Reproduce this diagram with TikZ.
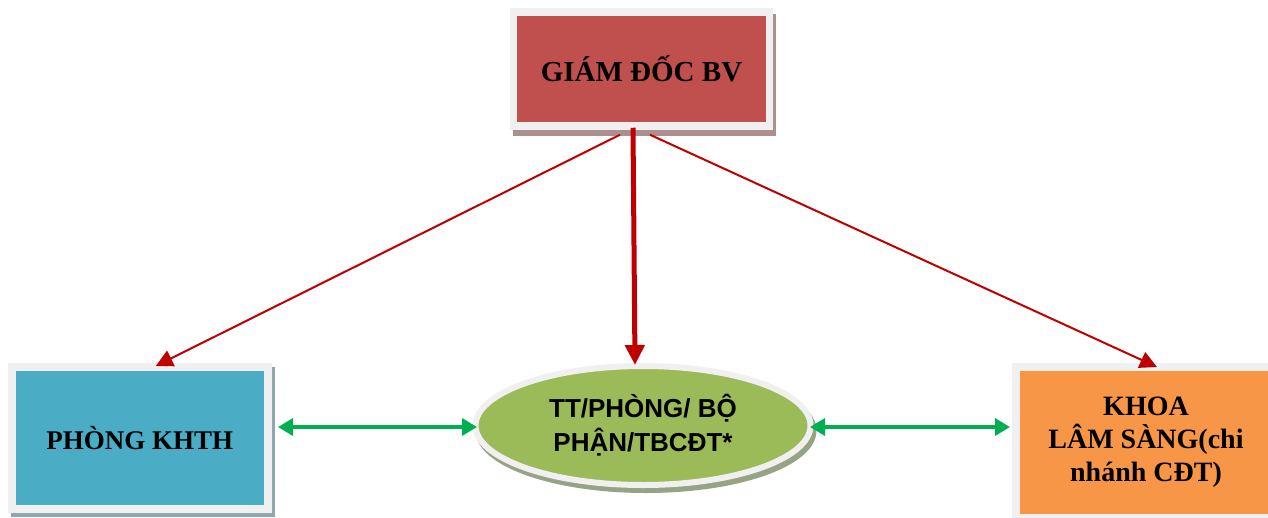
\documentclass[tikz,border=0pt]{standalone}
\usepackage{fontspec}
\setmainfont{Liberation Serif}
\newfontfamily\arialfont{Liberation Sans}
\usetikzlibrary{arrows.meta,shapes.geometric,calc}
\definecolor{redfill}{HTML}{C0504D}
\definecolor{bluefill}{HTML}{4BACC6}
\definecolor{greenfill}{HTML}{9BBB59}
\definecolor{orangefill}{HTML}{F79646}
\definecolor{framegray}{HTML}{F0F0F0}
\definecolor{redshadow}{HTML}{AD8F8F}
\definecolor{blueshadow}{HTML}{8EA8B3}
\definecolor{greenshadow}{HTML}{97A385}
\definecolor{orangeshadow}{HTML}{B89A80}
\definecolor{arrowred}{HTML}{C00000}
\definecolor{arrowgreen}{HTML}{00B050}
\tikzset{
  boxnode/.style={rectangle, draw=framegray, inner sep=0pt, align=center, text=black},
  shadowed/.style 2 args={preaction={draw=#1, fill=#1, transform canvas={shift={(#2)}}}},
  redline/.style={draw=arrowred, line width=2pt, -{Triangle[length=17pt,width=17pt]}},
  redthick/.style={draw=arrowred, line width=5pt, -{Triangle[length=20pt,width=19pt]}},
  greenline/.style={draw=arrowgreen, line width=3.5pt, {Triangle[length=15pt,width=17pt]}-{Triangle[length=15pt,width=17pt]}}
}
\begin{document}
\begin{tikzpicture}[x=1pt,y=-1pt]
\useasboundingbox (0,0) rectangle (1268,517);
\clip (0,0) rectangle (1268,517);

% Top box
\node[boxnode, fill=redfill, line width=7.5pt, outer sep=3.75pt,
      minimum width=256pt, minimum height=114pt,
      shadowed={redshadow}{3pt,-6pt},
      font=\bfseries\fontsize{29}{34}\selectfont] (gd) at (641.5,69) {GIÁM ĐỐC BV};

% Left box
\node[boxnode, fill=bluefill, line width=8pt, outer sep=4pt,
      minimum width=256.5pt, minimum height=141.5pt,
      shadowed={blueshadow}{3pt,-4pt},
      font=\bfseries\fontsize{27}{32}\selectfont] (kh) at (139.75,437.75) {PHÒNG KHTH};

% Center ellipse
\node[ellipse, draw=framegray, fill=greenfill, line width=6pt, outer sep=3pt, inner sep=0pt,
      minimum width=335pt, minimum height=119pt, align=center,
      shadowed={greenshadow}{3pt,-5pt},
      font=\arialfont\bfseries\fontsize{26}{34}\selectfont] (tt) at (643,425.5) {TT/PHÒNG/ BỘ\\PHẬN/TBCĐT*};

% Right box
\node[boxnode, fill=orangefill, line width=8pt, outer sep=4pt,
      minimum width=260pt, minimum height=151pt,
      shadowed={orangeshadow}{3pt,-4pt},
      font=\bfseries\fontsize{28}{33}\selectfont] (kl) at (1146,442.5) {KHOA\\LÂM SÀNG(chi\\nhánh CĐT)};

% Red arrows
\draw[redline] ([shift={(-21.5,5)}]gd.south) -- ([shift={(16,3)}]kh.north);
\draw[redline] ([shift={(8.5,5)}]gd.south) -- ([shift={(11,4)}]kl.north);
\draw[redthick] ([shift={(-8.5,-2)}]gd.south) -- ([shift={(-8,2)}]tt.north);

% Green arrows
\draw[greenline] ([shift={(6,-10.75)}]kh.east) -- ([shift={(4.5,1.5)}]tt.west);
\draw[greenline] ([shift={(-3.5,1.5)}]tt.east) -- ([shift={(-2,-15.5)}]kl.west);
\end{tikzpicture}
\end{document}
